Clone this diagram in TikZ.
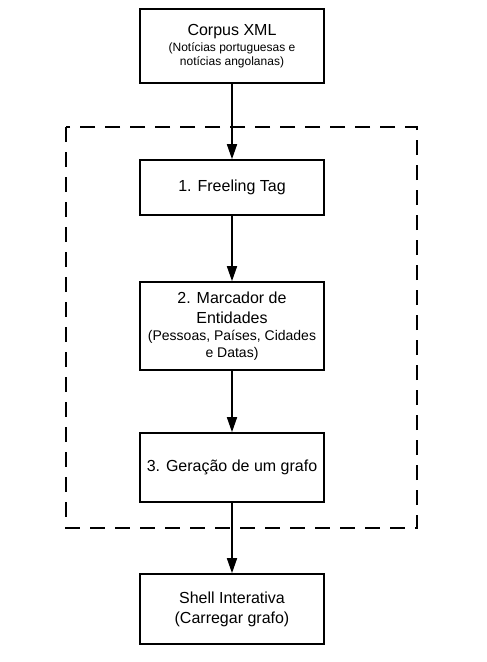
\documentclass[tikz,border=0pt]{standalone}
\usepackage{fontspec}
\setmainfont{Liberation Sans}
\usetikzlibrary{arrows.meta}
\tikzset{
  procbox/.style={draw, line width=1.6pt, minimum width=184pt, inner sep=0pt, align=center, font=\fontsize{16}{20}\selectfont},
  flow/.style={line width=1.6pt, -{Triangle[length=15pt,width=10pt]}},
  groupbox/.style={draw, line width=1.6pt, dash pattern=on 15pt off 10pt},
  small/.style={font=\fontsize{12}{14}\selectfont}
}
\begin{document}
\begin{tikzpicture}[x=1pt,y=-1pt]
\useasboundingbox (0,0) rectangle (487,662);
\draw[groupbox] (66,127) rectangle (417,528);
\node[procbox, minimum height=74pt] (corpus) at (232,46)
  {Corpus XML\\[-4pt]{\fontsize{12}{14}\selectfont (Notícias portuguesas e}\\[-6pt]{\fontsize{12}{14}\selectfont notícias angolanas)}};
\node[procbox, minimum height=55pt] (freeling) at (232,187.5) {1. Freeling Tag};
\node[procbox, minimum height=88pt] (marcador) at (232,326)
  {2. Marcador de\\Entidades\\[-3pt]{\fontsize{14}{17}\selectfont (Pessoas, Países, Cidades}\\[-3pt]{\fontsize{14}{17}\selectfont e Datas)}};
\node[procbox, minimum height=69pt] (grafo) at (232,467.5) {3. Geração de um grafo};
\node[procbox, minimum height=70pt] (shell) at (232,609) {Shell Interativa\\(Carregar grafo)};
\draw[flow] (corpus) -- (freeling);
\draw[flow] (freeling) -- (marcador);
\draw[flow] (marcador) -- (grafo);
\draw[flow] (grafo) -- (shell);
\end{tikzpicture}
\end{document}
